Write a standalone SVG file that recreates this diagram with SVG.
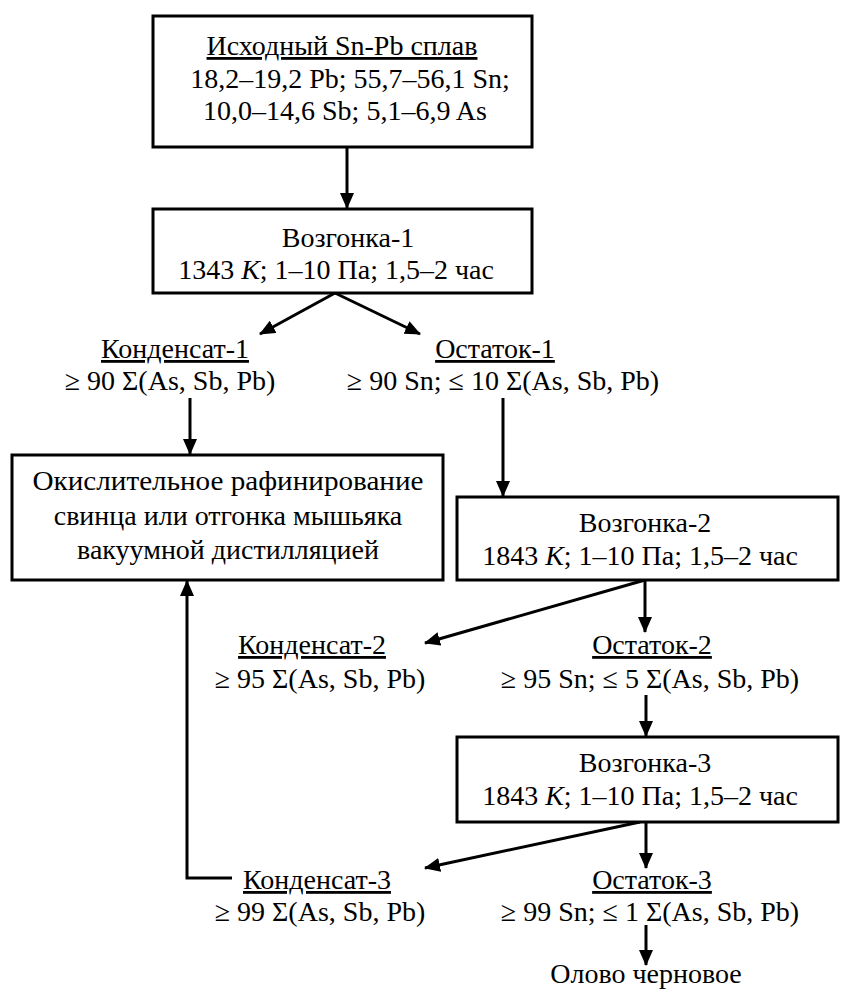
<svg xmlns="http://www.w3.org/2000/svg" width="844" height="989" viewBox="0 0 844 989">
<style>
.box{fill:#fff;stroke:#000;stroke-width:3}
.t{font-family:'Liberation Serif','Times New Roman',serif;font-size:28px;fill:#000;text-anchor:middle}
.u{text-decoration:underline}
.c{stroke:#000;stroke-width:3;fill:none}
</style>
<defs>
<marker id="ah" markerUnits="userSpaceOnUse" markerWidth="16" markerHeight="14" refX="15" refY="7" orient="auto">
<path d="M0,0 L16,7 L0,14 Z" fill="#000"/>
</marker>
</defs>
<rect width="844" height="989" fill="#fff"/>
<g id="connectors">
<line class="c" x1="347" y1="147" x2="347" y2="208" marker-end="url(#ah)"/>
<line class="c" x1="335" y1="293" x2="260" y2="334" marker-end="url(#ah)"/>
<line class="c" x1="335" y1="293" x2="420" y2="334" marker-end="url(#ah)"/>
<line class="c" x1="190" y1="398" x2="190" y2="454" marker-end="url(#ah)"/>
<line class="c" x1="503" y1="398" x2="503" y2="496" marker-end="url(#ah)"/>
<line class="c" x1="645" y1="580" x2="645" y2="632" marker-end="url(#ah)"/>
<line class="c" x1="645" y1="580" x2="425" y2="643" marker-end="url(#ah)"/>
<line class="c" x1="646" y1="695" x2="646" y2="736" marker-end="url(#ah)"/>
<line class="c" x1="640" y1="822" x2="425" y2="868" marker-end="url(#ah)"/>
<line class="c" x1="646" y1="822" x2="646" y2="868" marker-end="url(#ah)"/>
<line class="c" x1="646" y1="925" x2="646" y2="965" marker-end="url(#ah)"/>
<polyline class="c" points="232,878 187,878 187,581" marker-end="url(#ah)"/>
</g>
<g id="source">
<rect class="box" x="153" y="16" width="379" height="131"/>
<text class="t u" x="342" y="55">Исходный Sn-Pb сплав</text>
<text class="t" x="350" y="88">18,2–19,2 Pb; 55,7–56,1 Sn;</text>
<text class="t" x="345" y="120">10,0–14,6 Sb; 5,1–6,9 As</text>
</g>
<g id="vozgonka1">
<rect class="box" x="153" y="209" width="379" height="84"/>
<text class="t" x="348" y="247">Возгонка-1</text>
<text class="t" x="336" y="279">1343 <tspan font-style="italic">К</tspan>; 1–10 Па; 1,5–2 час</text>
</g>
<g id="kondensat1">
<text class="t u" x="175" y="358">Конденсат-1</text>
<text class="t" x="170" y="390">≥ 90 Σ(As, Sb, Pb)</text>
</g>
<g id="ostatok1">
<text class="t u" x="495" y="358">Остаток-1</text>
<text class="t" x="503" y="390">≥ 90 Sn; ≤ 10 Σ(As, Sb, Pb)</text>
</g>
<g id="refining">
<rect class="box" x="12" y="455" width="431" height="125"/>
<text class="t" x="228" y="490" textLength="391" lengthAdjust="spacingAndGlyphs">Окислительное рафинирование</text>
<text class="t" x="228" y="525">свинца или отгонка мышьяка</text>
<text class="t" x="228" y="559">вакуумной дистилляцией</text>
</g>
<g id="vozgonka2">
<rect class="box" x="457" y="497" width="381" height="83"/>
<text class="t" x="645" y="532">Возгонка-2</text>
<text class="t" x="640" y="565">1843 <tspan font-style="italic">К</tspan>; 1–10 Па; 1,5–2 час</text>
</g>
<g id="kondensat2">
<text class="t u" x="312" y="654">Конденсат-2</text>
<text class="t" x="320" y="688">≥ 95 Σ(As, Sb, Pb)</text>
</g>
<g id="ostatok2">
<text class="t u" x="652" y="654">Остаток-2</text>
<text class="t" x="650" y="688">≥ 95 Sn; ≤ 5 Σ(As, Sb, Pb)</text>
</g>
<g id="vozgonka3">
<rect class="box" x="457" y="737" width="381" height="85"/>
<text class="t" x="645" y="772">Возгонка-3</text>
<text class="t" x="640" y="805">1843 <tspan font-style="italic">К</tspan>; 1–10 Па; 1,5–2 час</text>
</g>
<g id="kondensat3">
<text class="t u" x="317" y="889">Конденсат-3</text>
<text class="t" x="320" y="921">≥ 99 Σ(As, Sb, Pb)</text>
</g>
<g id="ostatok3">
<text class="t u" x="652" y="889">Остаток-3</text>
<text class="t" x="650" y="921">≥ 99 Sn; ≤ 1 Σ(As, Sb, Pb)</text>
</g>
<g id="olovo">
<text class="t" x="646" y="983">Олово черновое</text>
</g>
</svg>
